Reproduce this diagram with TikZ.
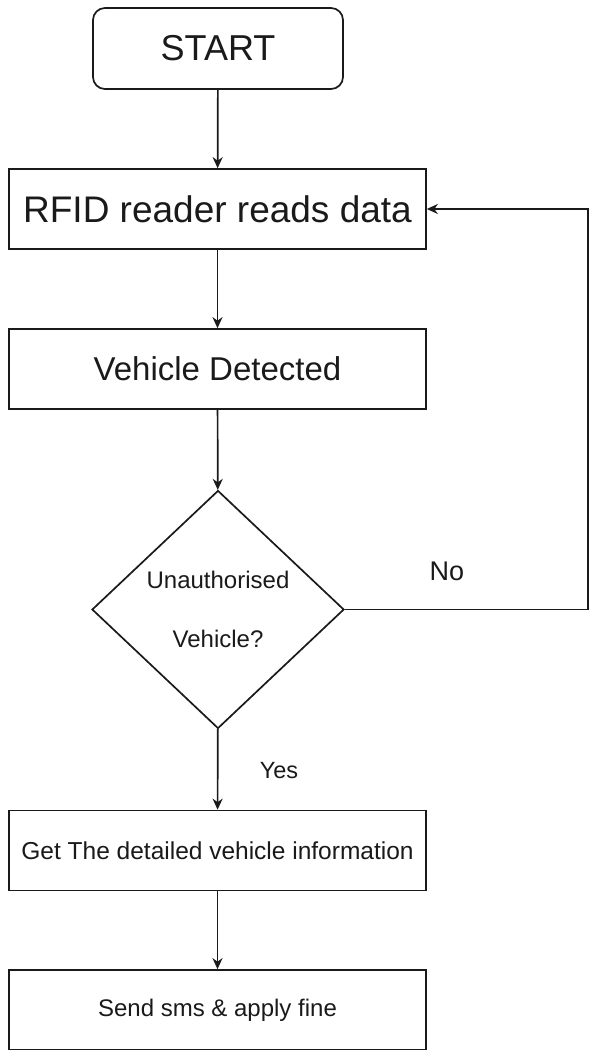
\documentclass[tikz,border=0pt]{standalone}
\usepackage{fontspec}
\setmainfont{Liberation Sans}
\usetikzlibrary{shapes.geometric,arrows.meta}
\definecolor{ink}{HTML}{1A1A1A}
\tikzset{
  box/.style={draw=ink, line width=1.7pt, rectangle, minimum width=417pt, minimum height=80pt, inner sep=0pt, text=ink},
  startbox/.style={box, rounded corners=12pt, minimum width=250pt, minimum height=81pt},
  decision/.style={draw=ink, line width=1.7pt, diamond, minimum width=252pt, minimum height=238pt, inner sep=0pt, text=ink, align=center},
  flow/.style={draw=ink, line width=1.7pt, -{Stealth[length=11pt,width=10pt,inset=3.5pt]}},
  lbl/.style={text=ink, inner sep=0pt}
}
\newcommand{\fs}[1]{\fontsize{#1}{#1}\selectfont}
\begin{document}
\begin{tikzpicture}[x=1pt,y=-1pt]
\useasboundingbox (0,0) rectangle (589,1050);
\fill[white] (0,0) rectangle (589,1050);
\node[startbox, font=\fs{36}] (start) at (218,48.5) {START};
\node[box, font=\fs{37}] (rfid) at (217.5,209) {RFID reader reads data};
\node[box, font=\fs{33}] (veh) at (217.5,369) {Vehicle Detected};
\node[decision, font=\fontsize{24}{29}\selectfont] (dec) at (218,609.5) {Unauthorised\\[30pt]Vehicle?};
\node[box, font=\fs{24.5}] (info) at (217.5,850.5) {Get The detailed vehicle information};
\node[box, font=\fs{24}] (sms) at (217.5,1010) {Send sms \& apply fine};
\coordinate (c1) at (588,609.5);
\coordinate (c2) at (588,209);
\node[lbl, font=\fs{27}] (no) at (447,571) {No};
\node[lbl, font=\fs{23.5}] (yes) at (279,771) {Yes};
\draw[flow] (start) -- (rfid);
\draw[flow] (rfid) -- (veh);
\draw[flow] (veh) -- (dec);
\draw[flow] (dec) -- (info);
\draw[flow] (info) -- (sms);
\draw[flow] (dec.east) -- (c1) -- (c2) -- (rfid.east);
\end{tikzpicture}
\end{document}
